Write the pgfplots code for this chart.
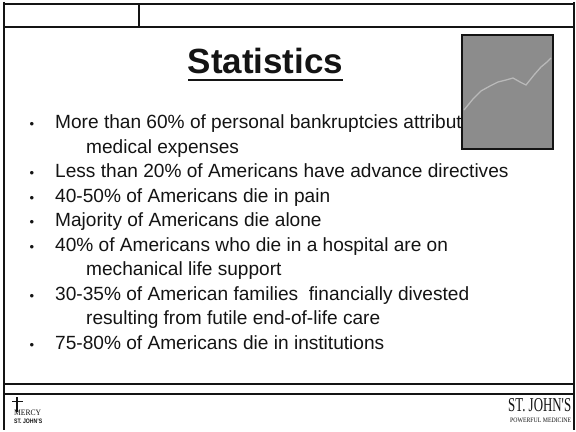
\documentclass[border=0pt]{standalone}
\usepackage{fontspec}
\setmainfont{Liberation Sans}
\newfontfamily\seriffont{Liberation Serif}
\usepackage{graphicx}
\usepackage{pgfplots}
\pgfplotsset{compat=1.18}
\definecolor{boxgray}{RGB}{140,140,140}
\definecolor{linegray}{RGB}{185,185,185}
\definecolor{ink}{RGB}{20,20,20}
\tikzset{btxt/.style={anchor=base west,ink,inner sep=0pt,font=\fontsize{19.1bp}{23bp}\selectfont},
  bdot/.style={anchor=base,ink,inner sep=0pt,font=\fontsize{13bp}{15bp}\selectfont}}
\begin{document}
\begin{tikzpicture}
\begin{axis}[width=576bp,height=431bp,scale only axis,
  xmin=0,xmax=576,ymin=0,ymax=431,y dir=reverse,hide axis,clip=false]
\path[fill=white] (axis cs:0,0) rectangle (axis cs:576,431);
% frame
\draw[ink,line width=1.2bp] (axis cs:4,4) -- (axis cs:574,4);
\draw[ink,line width=1.2bp] (axis cs:4,27) -- (axis cs:574,27);
\draw[ink,line width=1.2bp] (axis cs:139,4) -- (axis cs:139,27);
\draw[ink,line width=2.5bp] (axis cs:4,2) -- (axis cs:4,430);
\draw[ink,line width=1.5bp] (axis cs:574,2) -- (axis cs:574,430);
\draw[ink,line width=1.2bp] (axis cs:4,384) -- (axis cs:574,384);
\draw[ink,line width=1.2bp] (axis cs:4,394) -- (axis cs:574,394);
% title
\node[anchor=base,ink,font=\fontsize{35bp}{40bp}\selectfont\bfseries] at (axis cs:265.5,74) {Statistics};
\draw[ink,line width=2bp] (axis cs:188,80) -- (axis cs:343,80);
% bullets
\node[btxt] at (axis cs:55,128.5) {More than 60\% of personal bankruptcies attributed to};
\node[btxt] at (axis cs:86,153) {medical expenses};
\node[btxt] at (axis cs:55,177.5) {Less than 20\% of Americans have advance directives};
\node[btxt] at (axis cs:55,202) {40-50\% of Americans die in pain};
\node[btxt] at (axis cs:55,226.5) {Majority of Americans die alone};
\node[btxt] at (axis cs:55,251) {40\% of Americans who die in a hospital are on};
\node[btxt] at (axis cs:86,275.5) {mechanical life support};
\node[btxt] at (axis cs:55,300) {30-35\% of American families\ \ financially divested};
\node[btxt] at (axis cs:86,324.5) {resulting from futile end-of-life care};
\node[btxt] at (axis cs:55,349) {75-80\% of Americans die in institutions};
\node[bdot] at (axis cs:32,128.5) {•};
\node[bdot] at (axis cs:32,177.5) {•};
\node[bdot] at (axis cs:32,202) {•};
\node[bdot] at (axis cs:32,226.5) {•};
\node[bdot] at (axis cs:32,251) {•};
\node[bdot] at (axis cs:32,300) {•};
\node[bdot] at (axis cs:32,349) {•};
% picture box
\path[fill=boxgray] (axis cs:462,35) rectangle (axis cs:553,149);
\addplot[color=linegray,line width=1.3bp,mark=none] coordinates {
  (464,110) (473,99) (481,91) (490,86) (498,82) (506,80) (513,78) (520,82) (526,85) (534,75) (541,67) (547,62) (551,58)};
\draw[ink,line width=1.5bp] (axis cs:462,35) rectangle (axis cs:553,149);
% footer left logo
\draw[ink,line width=1.2bp] (axis cs:17,397) -- (axis cs:17,412);
\draw[ink,line width=1bp] (axis cs:12,401) -- (axis cs:23,401);
\node[anchor=base west,ink,inner sep=0pt] at (axis cs:14,415) {\resizebox{27bp}{5.5bp}{\seriffont MERCY}};
\node[anchor=base west,ink,inner sep=0pt] at (axis cs:14,423) {\resizebox{28bp}{4.5bp}{\bfseries ST. JOHN'S}};
% footer right logo
\node[anchor=base west,ink,inner sep=0pt] at (axis cs:508,411) {\resizebox{63bp}{13bp}{\seriffont ST. JOHN'S}};
\node[anchor=base west,ink,inner sep=0pt] at (axis cs:510,422) {\resizebox{61bp}{4.5bp}{\seriffont POWERFUL MEDICINE}};
\end{axis}
\end{tikzpicture}
\end{document}
